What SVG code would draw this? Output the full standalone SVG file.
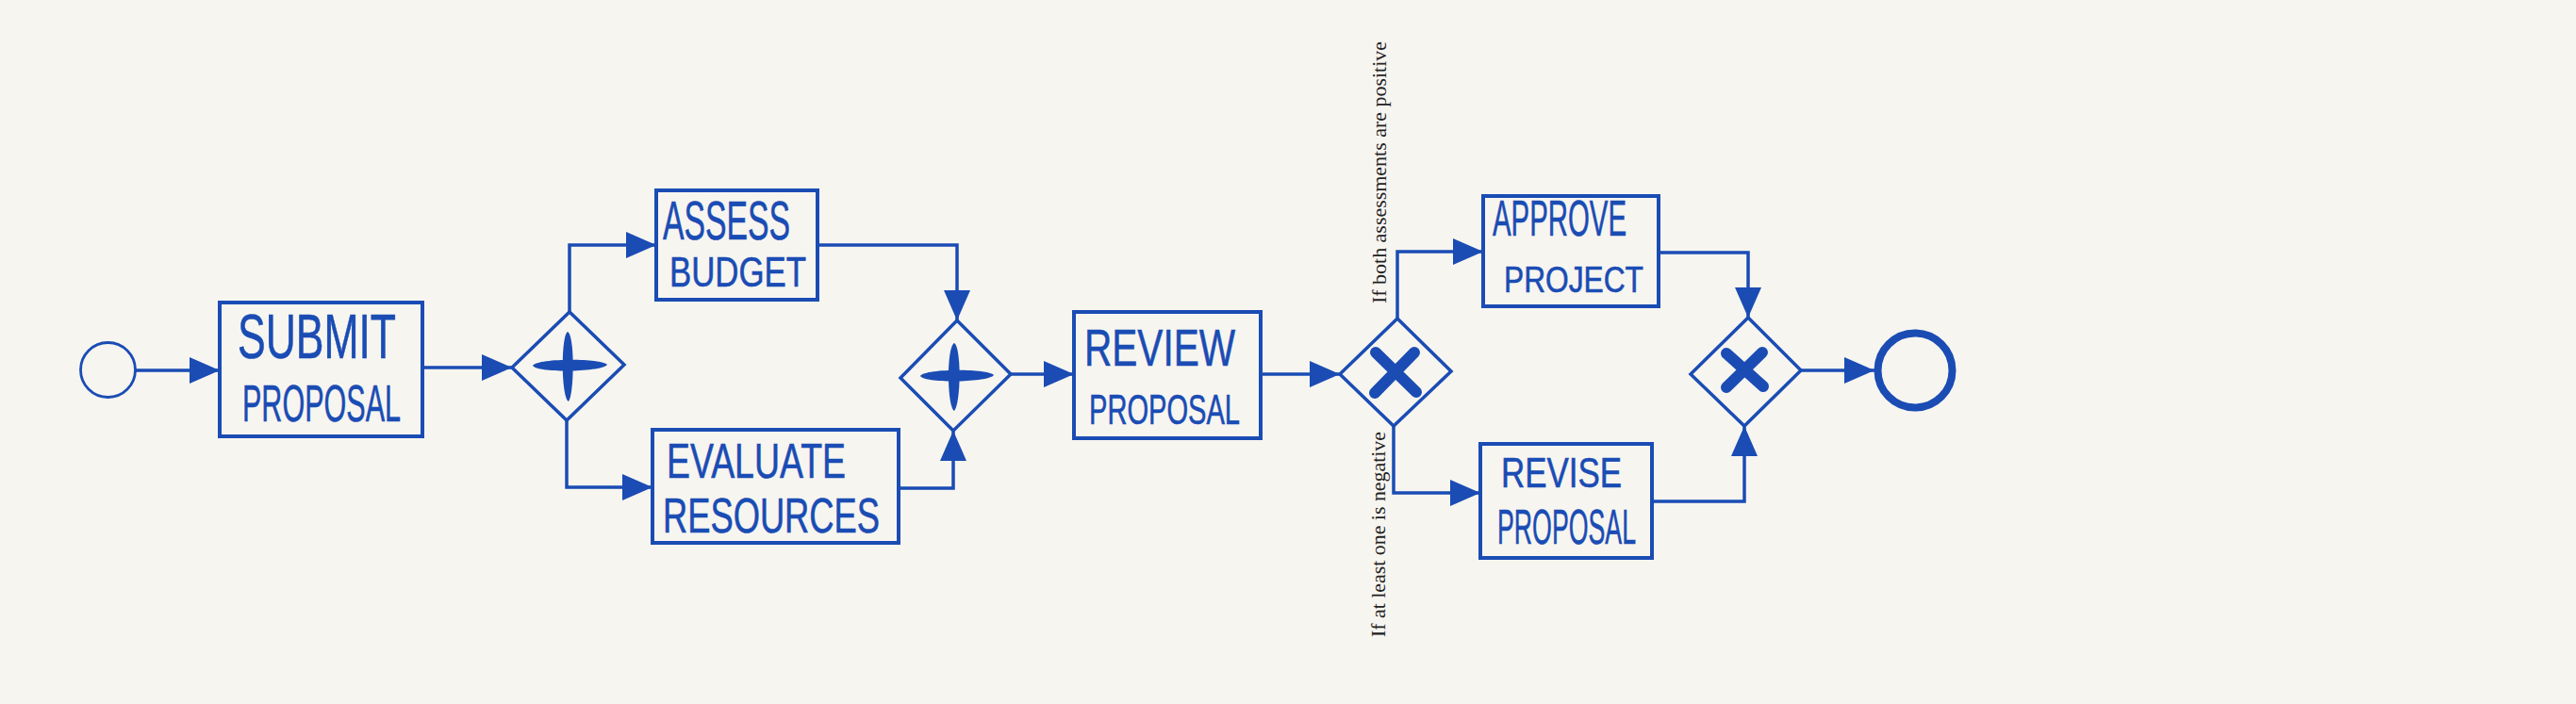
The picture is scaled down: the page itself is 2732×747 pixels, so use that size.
<svg xmlns="http://www.w3.org/2000/svg" width="2732" height="747" viewBox="0 0 2732 747">
<style>
.box{fill:none;stroke:#1a4cb4;stroke-width:4;stroke-linejoin:miter}
.gw{fill:none;stroke:#1a4cb4;stroke-width:3.5;stroke-linejoin:miter}
.edge{fill:none;stroke:#1a4cb4;stroke-width:3.5;marker-end:url(#arr)}
.hand{font-family:"Liberation Sans","DejaVu Sans",sans-serif;fill:#1a4cb4;stroke:#1a4cb4;stroke-width:0.6}
.lbl{font-family:"Liberation Serif","DejaVu Serif",serif;font-size:21px;fill:#222}
.mark{fill:#1a4cb4}
.xm{stroke:#1a4cb4;stroke-width:12;stroke-linecap:round}
</style>
<defs>
<marker id="arr" markerUnits="userSpaceOnUse" markerWidth="34" markerHeight="30" refX="32" refY="14" orient="auto">
<path d="M0,0 L32,14 L0,28 Z" fill="#1a4cb4"/>
</marker>
</defs>
<rect width="2732" height="747" fill="#f7f5f0"/>

<g id="connectors">
<path class="edge" d="M144,393 L233,393"/>
<path class="edge" d="M448,390 L543,390"/>
<path class="edge" d="M604,331 V260 H696"/>
<path class="edge" d="M601,446 V517 H692"/>
<path class="edge" d="M867,260 H1015 V340"/>
<path class="edge" d="M953,518 H1011 V457"/>
<path class="edge" d="M1072,397 H1139"/>
<path class="edge" d="M1337,397 H1421"/>
<path class="edge" d="M1482,338 V267 H1573"/>
<path class="edge" d="M1478,452 V523 H1570"/>
<path class="edge" d="M1759,268 H1854 V337"/>
<path class="edge" d="M1752,532 H1850 V452"/>
<path class="edge" d="M1910,393 H1988"/>
<text class="lbl" transform="translate(1470,322) rotate(-90)" textLength="278" lengthAdjust="spacingAndGlyphs">If both assessments are positive</text>
<text class="lbl" transform="translate(1469,676) rotate(-90)" textLength="218" lengthAdjust="spacingAndGlyphs">If at least one is negative</text>
</g>

<g id="start">
<circle cx="114.5" cy="392.5" r="29" fill="none" stroke="#1a4cb4" stroke-width="2.8"/>
</g>

<g id="submit">
<rect class="box" x="233" y="321" width="215" height="142"/>
<text class="hand" x="252" y="380" font-size="66" textLength="168" lengthAdjust="spacingAndGlyphs">SUBMIT</text>
<text class="hand" x="257" y="447" font-size="55" textLength="168" lengthAdjust="spacingAndGlyphs">PROPOSAL</text>
</g>

<g id="split">
<polygon class="gw" points="543,390 604,331 662,387 601,446"/>
<path class="mark" d="M602,352 C610,356 609,420 603,426 C595,420 595,356 602,352 Z M565,388 C570,380 638,380 644,387 C638,395 570,396 565,388 Z"/>
</g>

<g id="assess">
<rect class="box" x="696" y="202" width="171" height="116"/>
<text class="hand" x="703" y="254" font-size="57" textLength="135" lengthAdjust="spacingAndGlyphs">ASSESS</text>
<text class="hand" x="710" y="304" font-size="44" textLength="145" lengthAdjust="spacingAndGlyphs">BUDGET</text>
</g>

<g id="evaluate">
<rect class="box" x="692" y="456" width="261" height="120"/>
<text class="hand" x="707" y="507" font-size="52" textLength="190" lengthAdjust="spacingAndGlyphs">EVALUATE</text>
<text class="hand" x="703" y="565" font-size="52" textLength="230" lengthAdjust="spacingAndGlyphs">RESOURCES</text>
</g>

<g id="join">
<polygon class="gw" points="955,401 1015,340 1072,397 1011,457"/>
<path class="mark" d="M1012,364 C1020,368 1019,430 1012,436 C1004,430 1004,368 1012,364 Z M976,399 C981,391 1048,391 1054,398 C1048,406 981,407 976,399 Z"/>
</g>

<g id="review">
<rect class="box" x="1139" y="331" width="198" height="134"/>
<text class="hand" x="1150" y="388" font-size="56" textLength="160" lengthAdjust="spacingAndGlyphs">REVIEW</text>
<text class="hand" x="1155" y="450" font-size="45" textLength="160" lengthAdjust="spacingAndGlyphs">PROPOSAL</text>
</g>

<g id="decision">
<polygon class="gw" points="1421,397 1482,338 1539,394 1478,452"/>
<line class="xm" x1="1459" y1="374" x2="1502" y2="416"/>
<line class="xm" x1="1500" y1="374" x2="1458" y2="417"/>
</g>

<g id="approve">
<rect class="box" x="1573" y="208" width="186" height="117"/>
<text class="hand" x="1583" y="250" font-size="53" textLength="142" lengthAdjust="spacingAndGlyphs">APPROVE</text>
<text class="hand" x="1595" y="310" font-size="38" textLength="148" lengthAdjust="spacingAndGlyphs">PROJECT</text>
</g>

<g id="revise">
<rect class="box" x="1570" y="471" width="182" height="121"/>
<text class="hand" x="1592" y="517" font-size="45" textLength="128" lengthAdjust="spacingAndGlyphs">REVISE</text>
<text class="hand" x="1588" y="577" font-size="52" textLength="147" lengthAdjust="spacingAndGlyphs">PROPOSAL</text>
</g>

<g id="merge">
<polygon class="gw" points="1793,397 1854,337 1910,393 1850,452"/>
<line class="xm" x1="1831" y1="375" x2="1870" y2="410"/>
<line class="xm" x1="1869" y1="374" x2="1831" y2="411"/>
</g>

<g id="end">
<circle cx="2031" cy="393" r="39.5" fill="none" stroke="#1a4cb4" stroke-width="8"/>
</g>
</svg>
